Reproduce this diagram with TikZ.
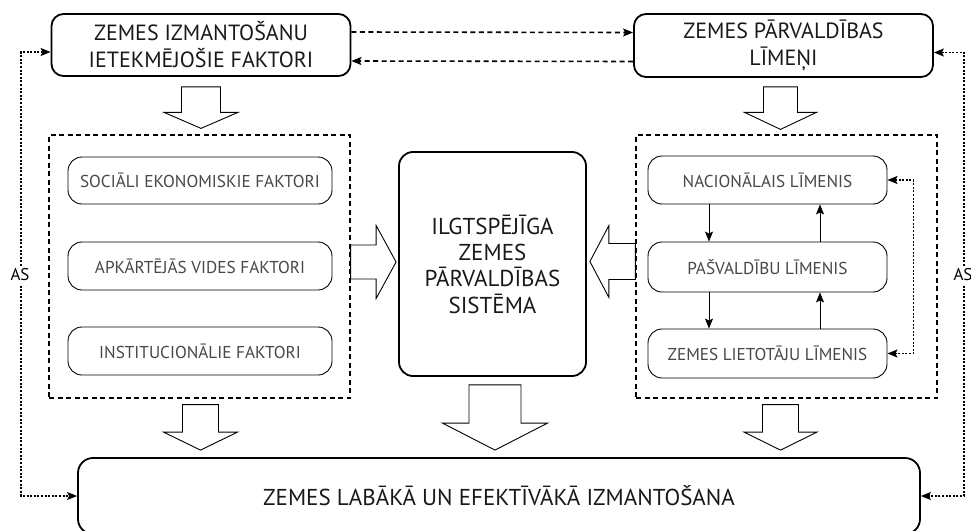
\documentclass[tikz,border=0pt]{standalone}
\usepackage{fontspec}
\setmainfont{PT Sans}
\usetikzlibrary{arrows.meta,calc}

% Hollow block arrow from #1 to the tip #2:
% #3 shaft half-width, #4 head half-width, #5 head length
\newcommand\blockarrow[5]{%
  \coordinate (ba-h) at ($(#2)!#5!(#1)$);
  \draw[blockline] ($(#1)!#3!90:(#2)$) -- ($(ba-h)!#3!90:(#2)$)
    -- ($(ba-h)!#4!90:(#2)$) -- (#2) -- ($(ba-h)!#4!-90:(#2)$)
    -- ($(ba-h)!#3!-90:(#2)$) -- ($(#1)!#3!-90:(#2)$) -- cycle;}

\begin{document}
\begin{tikzpicture}[x=1pt,y=-1pt,
  >={Stealth[length=10pt,width=8pt,inset=2pt]},
  mainbox/.style={draw, line width=1.8pt, rounded corners=12pt, align=center,
    inner sep=0pt, text=black!90, font=\fontsize{22}{27}\selectfont},
  subbox/.style={draw, line width=0.9pt, rounded corners=14pt, align=center,
    inner sep=0pt, text=black!72, font=\fontsize{17.2}{20}\selectfont},
  groupbox/.style={draw, line width=1.25pt, dash pattern=on 5pt off 3.5pt},
  blockline/.style={draw, line width=0.9pt, fill=white, line join=miter},
  dashlink/.style={line width=1.6pt, dash pattern=on 5pt off 3.5pt},
  dotlink/.style={line width=1.3pt, dash pattern=on 2pt off 1.6pt},
  levlink/.style={line width=0.9pt, ->},
  sidelabel/.style={fill=white, inner sep=3pt, font=\fontsize{17}{20}\selectfont}
]
\useasboundingbox (0,0) rectangle (971,530);

% dashed groups
\node[groupbox, minimum width=301pt, minimum height=263pt] (lc) at (199.5,266.5) {};
\node[groupbox, minimum width=301pt, minimum height=263pt] (rc) at (786.5,266.5) {};

% main boxes
\node[mainbox, minimum width=299pt, minimum height=62pt] (fac) at (201,45)
  {ZEMES IZMANTOŠANU\\IETEKMĒJOŠIE FAKTORI};
\node[mainbox, minimum width=299pt, minimum height=63pt] (lev) at (783.5,45.5)
  {ZEMES PĀRVALDĪBAS\\LĪMEŅI};
\node[mainbox, rounded corners=14pt, minimum width=187pt, minimum height=224pt,
  font=\fontsize{23}{26.3}\selectfont] (sys) at (492.5,264)
  {ILGTSPĒJĪGA\\ZEMES\\PĀRVALDĪBAS\\SISTĒMA};
\node[mainbox, rounded corners=15pt, minimum width=842pt, minimum height=76pt,
  font=\fontsize{23}{27}\selectfont] (use) at (499,496)
  {ZEMES LABĀKĀ UN EFEKTĪVĀKĀ IZMANTOŠANA};

% factor boxes
\node[subbox, minimum width=264pt, minimum height=47pt] (s1) at (200,180.5) {SOCIĀLI EKONOMISKIE FAKTORI};
\node[subbox, minimum width=264pt, minimum height=48pt] (s2) at (200,266) {APKĀRTĒJĀS VIDES FAKTORI};
\node[subbox, minimum width=264pt, minimum height=48pt] (s3) at (200,351) {INSTITUCIONĀLIE FAKTORI};

% level boxes
\node[subbox, minimum width=239pt, minimum height=48pt] (n1) at (767.5,180) {NACIONĀLAIS LĪMENIS};
\node[subbox, minimum width=239pt, minimum height=50pt] (n2) at (767.5,267) {PAŠVALDĪBU LĪMENIS};
\node[subbox, minimum width=239pt, minimum height=49pt] (n3) at (767.5,353.5) {ZEMES LIETOTĀJU LĪMENIS};

% links between levels
\draw[levlink] ([xshift=-58.5pt]n1.south) -- ([xshift=-58.5pt]n2.north);
\draw[levlink] ([xshift=-58.5pt]n2.south) -- ([xshift=-58.5pt]n3.north);
\draw[levlink] ([xshift=52.5pt]n2.north) -- ([xshift=52.5pt]n1.south);
\draw[levlink] ([xshift=52.5pt]n3.north) -- ([xshift=52.5pt]n2.south);
\draw[dotlink, <->] (n1.east) -- ++(26,0) |- (n3.east);

% links between the top boxes
\draw[dashlink, ->] ([yshift=13pt]fac.east) -- ([yshift=13pt]lev.west);
\draw[dashlink, ->] ([yshift=-16pt]lev.west) -- ([yshift=-16pt]fac.east);

% feedback loops
\coordinate (lx) at (21,0);
\coordinate (rx) at (964,0);
\draw[dotlink, <->] ([yshift=-7pt]fac.west) -| (lx |- use.west) -- (use.west);
\draw[dotlink, <->] ([yshift=-7pt]lev.east) -| (rx |- use.east) -- (use.east);
\node[sidelabel] (asl) at (20,275) {AS};
\node[sidelabel] (asr) at (963,275) {AS};

% block arrows
\blockarrow{$(fac.south)+(0,10)$}{$(fac.south |- lc.north)+(0,-6)$}{19.5pt}{37pt}{16pt}
\blockarrow{$(lev.south)+(-3,9)$}{$(lev.south |- rc.north)+(-3,-5)$}{17pt}{36pt}{17pt}
\blockarrow{$(lc.south)+(1,6)$}{$(lc.south |- use.north)+(1,-7)$}{18pt}{37pt}{18pt}
\blockarrow{$(sys.south)+(2.5,8)$}{$(sys.south |- use.north)+(2.5,-7)$}{26pt}{52.5pt}{27pt}
\blockarrow{$(rc.south)+(-6,6)$}{$(rc.south |- use.north)+(-6,-7)$}{18pt}{36.5pt}{18pt}
\blockarrow{$(lc.east)+(0,-4.5)$}{$(lc.east -| sys.west)+(-2,-4.5)$}{17pt}{36.5pt}{20pt}
\blockarrow{$(rc.west)+(0,-5)$}{$(rc.west -| sys.east)+(3,-5)$}{18pt}{36pt}{19pt}
\end{tikzpicture}
\end{document}
